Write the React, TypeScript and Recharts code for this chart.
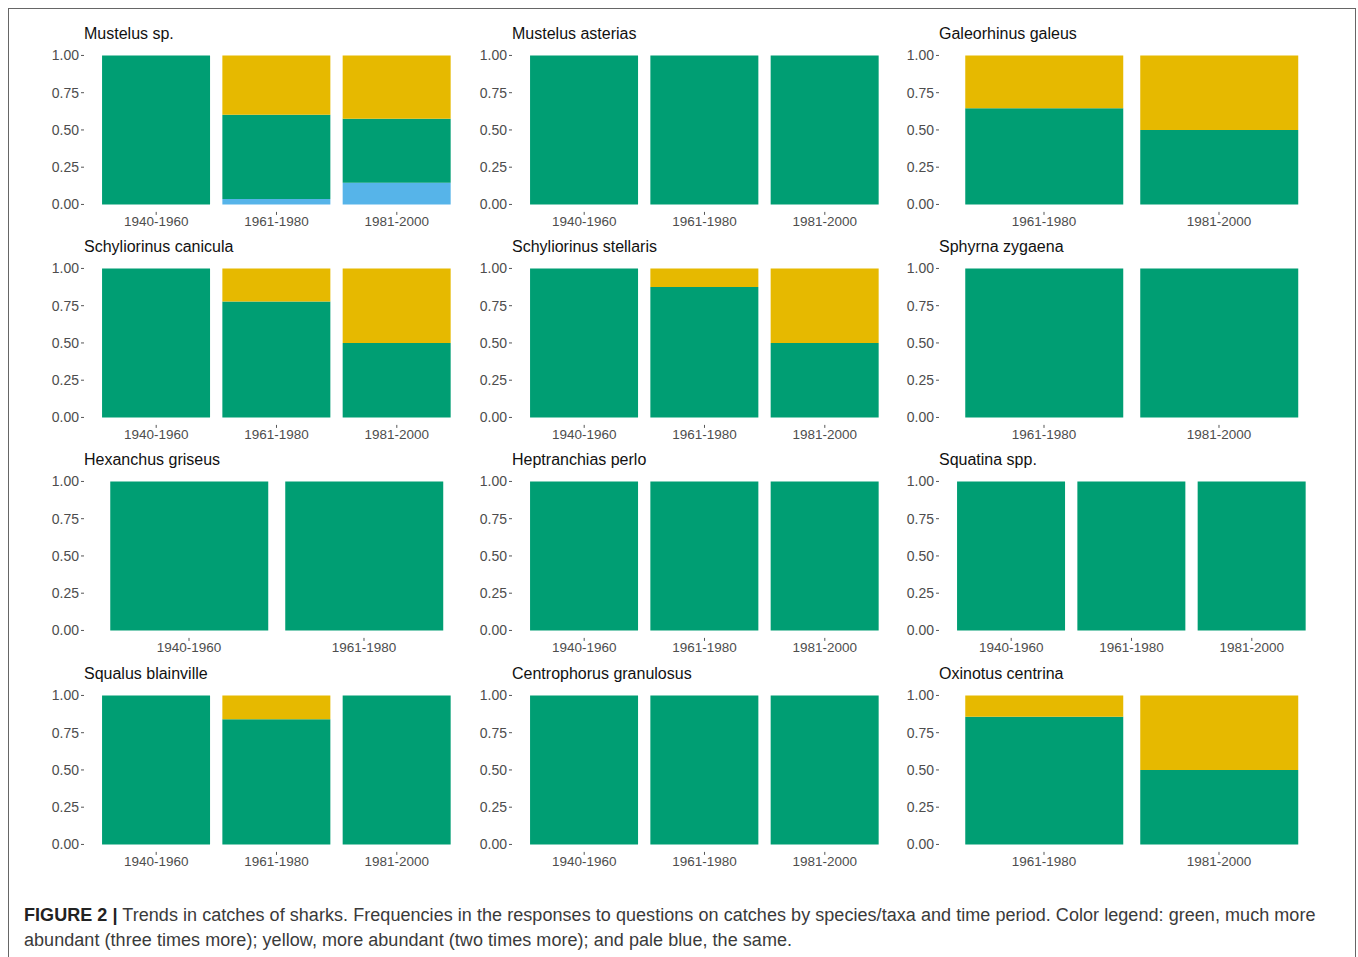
import React from 'react';
import { BarChart, Bar, XAxis, YAxis } from 'recharts';

// panel order: row by row, left to right
const titles = [
  'Mustelus sp.', 'Mustelus asterias', 'Galeorhinus galeus',
  'Schyliorinus canicula', 'Schyliorinus stellaris', 'Sphyrna zygaena',
  'Hexanchus griseus', 'Heptranchias perlo', 'Squatina spp.',
  'Squalus blainville', 'Centrophorus granulosus', 'Oxinotus centrina',
];

const allPeriods = ['1940-1960', '1961-1980', '1981-2000'];
const latePeriods = ['1961-1980', '1981-2000'];
const earlyPeriods = ['1940-1960', '1961-1980'];

const periods = [
  allPeriods, allPeriods, latePeriods,
  allPeriods, allPeriods, latePeriods,
  earlyPeriods, allPeriods, allPeriods,
  allPeriods, allPeriods, latePeriods,
];

// share of answers: much more abundant (three times more)
const green = [
  [1, 0.566, 0.429], [1, 1, 1], [0.645, 0.5],
  [1, 0.778, 0.5], [1, 0.875, 0.5], [1, 1],
  [1, 1], [1, 1, 1], [1, 1, 1],
  [1, 0.84, 1], [1, 1, 1], [0.857, 0.5],
];
// more abundant (two times more)
const yellow = [
  [0, 0.398, 0.425], [0, 0, 0], [0.355, 0.5],
  [0, 0.222, 0.5], [0, 0.125, 0.5], [0, 0],
  [0, 0], [0, 0, 0], [0, 0, 0],
  [0, 0.16, 0], [0, 0, 0], [0.143, 0.5],
];
// the same
const blue = [
  [0, 0.036, 0.146], [0, 0, 0], [0, 0],
  [0, 0, 0], [0, 0, 0], [0, 0],
  [0, 0], [0, 0, 0], [0, 0, 0],
  [0, 0, 0], [0, 0, 0], [0, 0],
];

const yTicks = [0, 0.25, 0.5, 0.75, 1];

const GREEN = '#009E73';
const YELLOW = '#E6B900';
const BLUE = '#56B4E9';
const FONT = '"Liberation Sans", Arial, sans-serif';

const colLeft = [84, 512, 939];
const rowOne = [55, 268.3, 481.7, 695]; // page y of the 1.00 tick per row
const PLOT_W = 385;
const UNIT_H = 149;
const AXIS_W = 70;
const TOP_PAD = 30;

function Panel({ idx }: { idx: number }) {
  const n = periods[idx].length;
  const data = periods[idx].map((p, i) => ({
    period: p,
    green: green[idx][i],
    yellow: yellow[idx][i],
    blue: blue[idx][i],
  }));
  const col = idx % 3;
  const row = Math.floor(idx / 3);
  const plotTop = rowOne[row] - 0.05 * UNIT_H;
  const plotH = 1.1 * UNIT_H;
  const u = PLOT_W / (n + 0.2);
  const tick = { fontSize: 13.5, fill: '#4D4D4D', fontFamily: FONT };

  return (
    <div style={{ position: 'absolute', left: colLeft[col] - AXIS_W, top: plotTop - TOP_PAD }}>
      <div
        style={{
          position: 'absolute', left: AXIS_W, top: 7, fontFamily: FONT, fontSize: 16,
          lineHeight: '18px', color: '#111', whiteSpace: 'nowrap',
        }}
      >
        {titles[idx]}
      </div>
      <BarChart
        width={AXIS_W + PLOT_W + 10}
        height={TOP_PAD + plotH + 30}
        data={data}
        margin={{ top: TOP_PAD, right: 10, left: 0, bottom: 0 }}
        barCategoryGap="5%"
      >
        <XAxis
          dataKey="period"
          axisLine={false}
          tickLine={{ stroke: '#555' }}
          tickSize={3}
          tickMargin={2}
          interval={0}
          height={30}
          padding={{ left: 0.1 * u, right: 0.1 * u }}
          tick={tick}
        />
        <YAxis
          type="number"
          domain={[-0.05, 1.05]}
          allowDataOverflow
          ticks={yTicks}
          axisLine={false}
          tickLine={{ stroke: '#555' }}
          tickSize={3}
          tickMargin={2}
          width={AXIS_W}
          tickFormatter={(v: number) => v.toFixed(2)}
          tick={{ ...tick, fontSize: 14 }}
        />
        <Bar dataKey="blue" stackId="a" fill={BLUE} isAnimationActive={false} />
        <Bar dataKey="green" stackId="a" fill={GREEN} isAnimationActive={false} />
        <Bar dataKey="yellow" stackId="a" fill={YELLOW} isAnimationActive={false} />
      </BarChart>
    </div>
  );
}

export default function App() {
  return (
    <div style={{ position: 'relative', width: 1358, height: 957, overflow: 'hidden', background: '#fff' }}>
      <style>{'body{margin:0}'}</style>
      <div
        style={{
          position: 'absolute', left: 8, top: 8, width: 1348, height: 960,
          border: '1.5px solid #666', boxSizing: 'border-box',
        }}
      />
      {titles.map((t, i) => (
        <Panel key={t} idx={i} />
      ))}
      <div
        style={{
          position: 'absolute', left: 24, top: 903, fontFamily: FONT, fontSize: 18,
          letterSpacing: 0.05, lineHeight: '25px', color: '#3a3a3a', whiteSpace: 'nowrap',
        }}
      >
        <div>
          <b style={{ color: '#222' }}>FIGURE 2 |</b> Trends in catches of sharks. Frequencies in the responses to
          questions on catches by species/taxa and time period. Color legend: green, much more
        </div>
        <div>abundant (three times more); yellow, more abundant (two times more); and pale blue, the same.</div>
      </div>
    </div>
  );
}
